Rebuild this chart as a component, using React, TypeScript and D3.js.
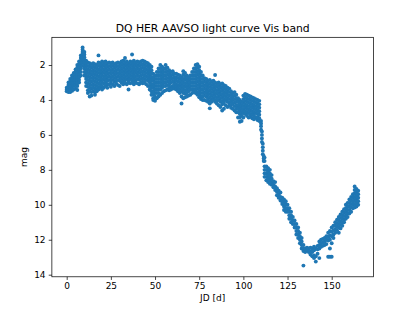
import React, { useRef, useEffect } from 'react';
import * as d3 from 'd3';

const title = 'DQ HER AAVSO light curve Vis band';
const xLabel = 'JD [d]';
const yLabel = 'mag';
const xTicks = [0, 25, 50, 75, 100, 125, 150];
const yTicks = [2, 4, 6, 8, 10, 12, 14];

// each row: [JD, mag, mag, ...]
const rise: number[][] = [
  [0, 3.3, 3.42, 3.5],
  [1, 3.0, 3.15, 3.3, 3.45, 3.55],
  [2, 2.8, 2.95, 3.1, 3.25, 3.4, 3.55],
  [3, 2.6, 2.75, 2.9, 3.05, 3.2, 3.35, 3.48],
  [4, 2.45, 2.6, 2.75, 2.9, 3.05, 3.2, 3.4],
  [5, 2.25, 2.4, 2.55, 2.7, 2.85, 3.0, 3.15, 3.35],
  [6, 2.0, 2.15, 2.3, 2.45, 2.6, 2.75, 2.9, 3.05, 3.2, 3.43],
  [7, 1.8, 1.95, 2.1, 2.25, 2.4, 2.55, 2.7, 2.85, 3.0],
  [8, 1.45, 1.6, 1.75, 1.9, 2.05, 2.2, 2.4, 2.6],
  [9, 1.0, 1.12, 1.25, 1.4, 1.55, 1.7, 1.85, 2.05],
  [10, 1.25, 1.4, 1.55, 1.7, 1.85, 2.0, 2.2, 2.4, 2.6],
  [11, 1.75, 1.9, 2.05, 2.2, 2.35, 2.5, 2.65, 2.8, 3.0, 3.2],
];

const plateau: number[][] = [
  [12, 1.85, 2.05, 2.25, 2.45, 2.65, 2.85, 3.05, 3.25, 3.45, 3.6],
  [13, 1.9, 2.1, 2.3, 2.5, 2.7, 2.9, 3.1, 3.3, 3.5, 3.8],
  [14, 1.95, 2.15, 2.35, 2.55, 2.75, 2.95, 3.15, 3.35, 3.55, 3.75],
  [15, 1.9, 2.1, 2.3, 2.5, 2.7, 2.9, 3.1, 3.3, 3.5],
  [16, 1.95, 2.15, 2.35, 2.55, 2.75, 2.95, 3.15, 3.35, 3.55, 3.7],
  [17, 2.0, 2.2, 2.4, 2.6, 2.8, 3.0, 3.2, 3.4, 3.5],
  [18, 1.45, 1.85, 2.05, 2.25, 2.45, 2.65, 2.85, 3.05, 3.25, 3.4],
  [19, 1.9, 2.1, 2.3, 2.5, 2.7, 2.9, 3.1, 3.3],
  [20, 1.8, 2.0, 2.2, 2.4, 2.6, 2.8, 3.0, 3.2, 3.4],
  [21, 1.85, 2.05, 2.25, 2.45, 2.65, 2.85, 3.05, 3.3],
  [22, 1.8, 2.0, 2.2, 2.4, 2.6, 2.8, 3.0, 3.2],
  [23, 1.9, 2.1, 2.3, 2.5, 2.7, 2.9, 3.1, 3.3],
  [24, 1.85, 2.05, 2.25, 2.45, 2.65, 2.85, 3.1],
  [25, 1.9, 2.1, 2.3, 2.5, 2.7, 2.9, 3.05, 3.25],
  [26, 1.85, 2.05, 2.25, 2.45, 2.65, 2.85, 3.1],
  [27, 1.95, 2.15, 2.35, 2.55, 2.75, 2.95, 3.2],
  [28, 1.9, 2.1, 2.3, 2.5, 2.7, 2.9, 3.05],
  [29, 1.85, 2.05, 2.25, 2.45, 2.65, 2.85, 3.15],
  [30, 1.9, 2.1, 2.3, 2.5, 2.7, 2.9, 3.2],
  [31, 1.8, 2.0, 2.2, 2.4, 2.6, 2.8, 3.0],
  [32, 1.75, 1.95, 2.15, 2.35, 2.55, 2.75, 2.95, 3.1],
  [33, 1.6, 1.85, 2.05, 2.25, 2.45, 2.65, 2.85, 3.0],
  [34, 1.8, 2.0, 2.2, 2.4, 2.6, 2.8, 3.1],
  [35, 1.9, 2.1, 2.3, 2.5, 2.7, 2.9, 3.0, 3.4],
  [36, 1.8, 2.0, 2.2, 2.4, 2.6, 2.8, 3.05],
  [37, 1.4, 1.85, 2.05, 2.25, 2.45, 2.65, 2.85, 3.0],
  [38, 1.75, 1.95, 2.15, 2.35, 2.55, 2.75, 2.95, 3.1],
  [39, 1.85, 2.05, 2.25, 2.45, 2.65, 2.85, 3.0],
  [40, 1.8, 2.0, 2.2, 2.4, 2.6, 2.8, 3.05],
  [41, 1.85, 2.05, 2.25, 2.45, 2.65, 2.85, 3.1],
  [42, 1.8, 2.0, 2.2, 2.4, 2.6, 2.8, 3.0],
  [43, 1.75, 1.95, 2.15, 2.35, 2.55, 2.75, 2.95, 3.05],
  [44, 1.8, 2.0, 2.2, 2.4, 2.6, 2.8, 3.0],
  [45, 1.85, 2.05, 2.25, 2.45, 2.65, 2.85, 3.1],
  [46, 1.9, 2.1, 2.3, 2.5, 2.7, 2.9, 3.2],
  [47, 2.0, 2.2, 2.4, 2.6, 2.8, 3.0, 3.2, 3.4],
];

const decline: number[][] = [
  [48, 2.1, 2.3, 2.5, 2.7, 2.9, 3.1, 3.3, 3.5, 3.7],
  [49, 2.5, 2.7, 2.9, 3.1, 3.3, 3.5, 3.7, 3.9, 4.0],
  [50, 2.6, 2.8, 3.0, 3.2, 3.4, 3.6, 3.8, 4.05],
  [51, 2.4, 2.6, 2.8, 3.0, 3.2, 3.4, 3.6, 3.9],
  [52, 2.2, 2.4, 2.6, 2.8, 3.0, 3.2, 3.4, 3.6, 3.8],
  [53, 2.0, 2.2, 2.4, 2.6, 2.8, 3.0, 3.2, 3.4, 3.7],
  [54, 2.1, 2.3, 2.5, 2.7, 2.9, 3.1, 3.3, 3.6],
  [55, 2.2, 2.4, 2.6, 2.8, 3.0, 3.2, 3.5],
  [56, 2.0, 2.2, 2.4, 2.6, 2.8, 3.0, 3.2, 3.45],
  [57, 2.15, 2.35, 2.55, 2.75, 2.95, 3.15, 3.4],
  [58, 2.3, 2.5, 2.7, 2.9, 3.1, 3.3, 3.45],
  [59, 2.4, 2.6, 2.8, 3.0, 3.25, 3.4],
  [60, 2.35, 2.55, 2.75, 2.95, 3.2, 3.35],
  [61, 2.5, 2.7, 2.9, 3.05, 3.2, 3.35],
  [62, 2.5, 2.7, 2.9, 3.1, 3.25, 3.4],
  [63, 2.55, 2.75, 2.95, 3.15, 3.35, 3.5],
  [64, 2.6, 2.8, 3.0, 3.2, 3.4, 3.6],
  [65, 2.7, 2.9, 3.1, 3.3, 3.5, 3.8, 4.2],
  [66, 2.35, 2.55, 2.8, 3.0, 3.2, 3.4, 3.6, 3.9],
  [67, 2.45, 2.65, 2.85, 3.05, 3.25, 3.45, 3.65, 3.85],
  [68, 2.6, 2.8, 3.0, 3.2, 3.4, 3.6, 3.8],
  [69, 2.7, 2.9, 3.1, 3.3, 3.5, 3.75],
  [70, 2.6, 2.8, 3.0, 3.2, 3.4, 3.7],
  [71, 2.4, 2.6, 2.8, 3.0, 3.2, 3.4, 3.6],
  [72, 2.2, 2.4, 2.6, 2.8, 3.0, 3.2, 3.4, 3.55],
  [73, 2.0, 2.2, 2.4, 2.6, 2.8, 3.0, 3.2, 3.4, 3.6],
  [74, 1.95, 2.15, 2.35, 2.55, 2.75, 2.95, 3.15, 3.35, 3.55, 3.7],
  [75, 2.1, 2.3, 2.5, 2.7, 2.9, 3.1, 3.3, 3.5, 3.7, 3.85],
  [76, 2.4, 2.6, 2.8, 3.0, 3.2, 3.4, 3.6, 3.8, 3.95],
  [77, 2.6, 2.8, 3.0, 3.2, 3.4, 3.6, 3.8, 4.0],
  [78, 2.75, 2.95, 3.15, 3.35, 3.55, 3.75, 4.0],
  [79, 2.8, 3.0, 3.2, 3.4, 3.6, 3.8, 4.05],
  [80, 2.9, 3.1, 3.3, 3.5, 3.7, 3.9, 4.1],
  [81, 2.85, 3.05, 3.25, 3.45, 3.65, 3.85, 4.05, 4.2, 4.48],
  [82, 2.95, 3.15, 3.35, 3.55, 3.75, 3.95, 4.1],
  [83, 2.9, 3.1, 3.3, 3.5, 3.7, 3.9, 4.0],
  [84, 2.57, 3.0, 3.2, 3.4, 3.6, 3.8, 4.0, 4.1],
  [85, 3.05, 3.25, 3.45, 3.65, 3.85, 4.05, 4.2],
  [86, 3.0, 3.2, 3.4, 3.6, 3.8, 4.0, 4.3],
  [87, 3.1, 3.3, 3.5, 3.7, 3.9, 4.1, 4.4],
  [88, 3.05, 3.25, 3.45, 3.65, 3.85, 4.05, 4.25, 4.6],
  [89, 3.15, 3.35, 3.55, 3.75, 3.95, 4.15, 4.5],
  [90, 3.2, 3.4, 3.6, 3.8, 4.0, 4.3],
  [91, 3.3, 3.5, 3.7, 3.9, 4.1, 4.4],
  [92, 3.35, 3.55, 3.75, 3.95, 4.15, 4.3],
  [93, 3.5, 3.7, 3.9, 4.1, 4.3, 4.45],
  [94, 3.6, 3.8, 4.0, 4.2, 4.5],
  [95, 3.55, 3.75, 3.95, 4.15, 4.35, 4.6],
  [96, 3.7, 3.9, 4.1, 4.3, 4.5, 4.7],
  [97, 3.9, 4.1, 4.3, 4.5, 4.7, 5.0],
  [98, 4.0, 4.2, 4.4, 4.6, 4.8, 5.0, 5.25],
  [99, 4.1, 4.3, 4.5, 4.7, 4.9, 5.2],
  [100, 3.75, 3.95, 4.15, 4.35, 4.55, 4.75, 5.0],
  [101, 3.65, 3.85, 4.05, 4.25, 4.45, 4.65, 4.8],
  [102, 3.7, 3.9, 4.1, 4.3, 4.5, 4.7, 4.9],
  [103, 3.75, 3.95, 4.15, 4.35, 4.55, 4.75, 5.0],
  [104, 3.8, 4.0, 4.2, 4.4, 4.6, 4.8, 4.95],
  [105, 3.85, 4.05, 4.25, 4.45, 4.65, 4.85, 5.05],
  [106, 3.9, 4.1, 4.3, 4.5, 4.7, 4.9, 5.1],
  [107, 3.95, 4.15, 4.35, 4.55, 4.75, 5.0],
  [108, 4.0, 4.2, 4.4, 4.6, 4.8, 5.0, 5.15],
  [109, 4.05, 4.25, 4.45, 4.65, 4.85, 5.05, 5.2],
];

const drop: number[][] = [
  [110, 5.2, 5.35, 5.5, 5.7],
  [110.5, 5.8, 6.0, 6.2, 6.4],
  [111, 6.5, 6.7, 6.9, 7.1],
  [111.5, 7.2, 7.35, 7.5],
  [112, 7.3, 7.5, 7.8, 8.0, 8.2, 8.4],
  [113, 7.8, 8.0, 8.2, 8.4, 8.6],
  [114, 7.9, 8.1, 8.3, 8.5, 8.7],
  [115, 8.0, 8.2, 8.4, 8.6, 8.8],
  [116, 8.3, 8.5, 8.7, 8.85],
  [117, 8.65, 8.85, 9.0],
  [118, 8.7, 8.95, 9.15],
  [119, 9.05, 9.25, 9.45],
  [120, 9.2, 9.4, 9.6],
  [121, 9.3, 9.55, 9.75],
  [122, 9.6, 9.8, 9.95],
  [123, 9.7, 9.9, 10.1, 10.3],
  [124, 9.8, 10.0, 10.2, 10.4],
  [125, 10.0, 10.2, 10.4],
  [126, 10.2, 10.4, 10.6, 10.8],
  [127, 10.4, 10.6, 10.8, 11.0],
  [128, 10.7, 10.9, 11.1],
  [129, 10.9, 11.1, 11.3],
  [130, 11.1, 11.3, 11.5, 11.7],
  [131, 11.3, 11.5, 11.7, 11.9],
  [132, 11.6, 11.8, 12.0, 12.2],
  [133, 11.9, 12.1, 12.3, 12.5],
  [134, 12.3, 12.5, 12.65, 13.48],
  [135, 12.5, 12.7],
];

const minimum: number[][] = [
  [136, 12.45, 12.6],
  [137, 12.5, 12.7],
  [138, 12.45, 12.65, 12.85],
  [139, 12.5, 12.7, 12.95],
  [140, 12.4, 12.6, 12.9, 13.05],
  [141, 12.5, 12.95, 13.25],
  [142, 12.35, 12.55, 12.8],
  [143, 12.1, 12.3, 12.5, 13.05],
  [144, 12.0, 12.2, 12.4],
  [145, 11.95, 12.15, 12.35],
  [146, 11.9, 12.1, 12.3],
  [147, 11.8, 12.0, 12.25],
  [148, 11.6, 11.85, 12.05, 12.97],
  [149, 11.5, 11.75, 12.0, 12.5, 12.97],
  [150, 11.3, 11.55, 11.8, 12.2, 12.97],
];

const recovery: number[][] = [
  [151, 11.2, 11.45, 11.7, 11.9],
  [152, 11.0, 11.2, 11.4, 11.6],
  [153, 10.85, 11.05, 11.25, 11.45],
  [154, 10.7, 10.9, 11.1, 11.3, 11.6],
  [155, 10.55, 10.75, 10.95, 11.15, 11.35],
  [156, 10.4, 10.6, 10.8, 11.0, 11.2],
  [157, 10.25, 10.45, 10.65, 10.85, 11.0],
  [158, 10.0, 10.2, 10.4, 10.6, 10.8],
  [159, 9.9, 10.1, 10.3, 10.5, 10.7],
  [160, 9.7, 9.9, 10.1, 10.3, 10.5],
  [161, 9.55, 9.75, 9.95, 10.15, 10.4],
  [162, 9.4, 9.6, 9.8, 10.0, 10.2],
  [163, 8.95, 9.15, 9.35, 9.55, 9.75, 9.95, 10.15],
  [164, 9.1, 9.3, 9.5, 9.7, 9.9, 10.1],
  [165, 9.2, 9.4, 9.6, 9.8, 10.0],
];

export default function App() {
  const svgRef = useRef<SVGSVGElement>(null);

  useEffect(() => {
    if (!svgRef.current) return;
    const width = 415, height = 311;
    const left = 51.875, right = 373.5, top = 37.32, bottom = 276.79;
    const font = 'DejaVu Sans, sans-serif';
    const svg = d3.select(svgRef.current).attr('width', width).attr('height', height);
    svg.selectAll('*').remove();

    const x = d3.scaleLinear().domain([-8.39, 173.66]).range([left, right]);
    const y = d3.scaleLinear().domain([0.415, 14.12]).range([top, bottom]);

    const points = [...rise, ...plateau, ...decline, ...drop, ...minimum, ...recovery]
      .flatMap((row) => row.slice(1).map((m) => [row[0], m]));

    svg.append('rect').attr('width', width).attr('height', height).attr('fill', '#fff');

    svg.append('g').selectAll('circle').data(points).join('circle')
      .attr('cx', (d) => x(d[0])).attr('cy', (d) => y(d[1])).attr('r', 1.95).attr('fill', '#1f77b4');

    const xAxis = svg.append('g').attr('transform', `translate(0,${bottom})`)
      .call(d3.axisBottom(x).tickValues(xTicks).tickSize(3.15).tickPadding(3.15).tickSizeOuter(0));
    const yAxis = svg.append('g').attr('transform', `translate(${left},0)`)
      .call(d3.axisLeft(y).tickValues(yTicks).tickSize(3.15).tickPadding(3.15).tickSizeOuter(0));
    [xAxis, yAxis].forEach((g) => {
      g.select('.domain').remove();
      g.selectAll('line').attr('stroke', '#000').attr('stroke-width', 0.72);
      g.selectAll('text').attr('fill', '#000').attr('font-size', 9).attr('font-family', font);
    });

    svg.append('rect').attr('x', left).attr('y', top).attr('width', right - left).attr('height', bottom - top)
      .attr('fill', 'none').attr('stroke', '#000').attr('stroke-width', 0.72);

    svg.append('text').attr('x', (left + right) / 2).attr('y', 31.9).attr('text-anchor', 'middle')
      .attr('font-size', 10.8).attr('font-family', font).attr('fill', '#000').text(title);
    svg.append('text').attr('x', (left + right) / 2).attr('y', 300.5).attr('text-anchor', 'middle')
      .attr('font-size', 9).attr('font-family', font).attr('fill', '#000').text(xLabel);
    svg.append('text').attr('transform', `translate(26.5,${(top + bottom) / 2}) rotate(-90)`).attr('text-anchor', 'middle')
      .attr('font-size', 9).attr('font-family', font).attr('fill', '#000').text(yLabel);
  }, []);

  return (<svg ref={svgRef} style={{ position: 'absolute', left: 0, top: 0, display: 'block' }} />);
}
